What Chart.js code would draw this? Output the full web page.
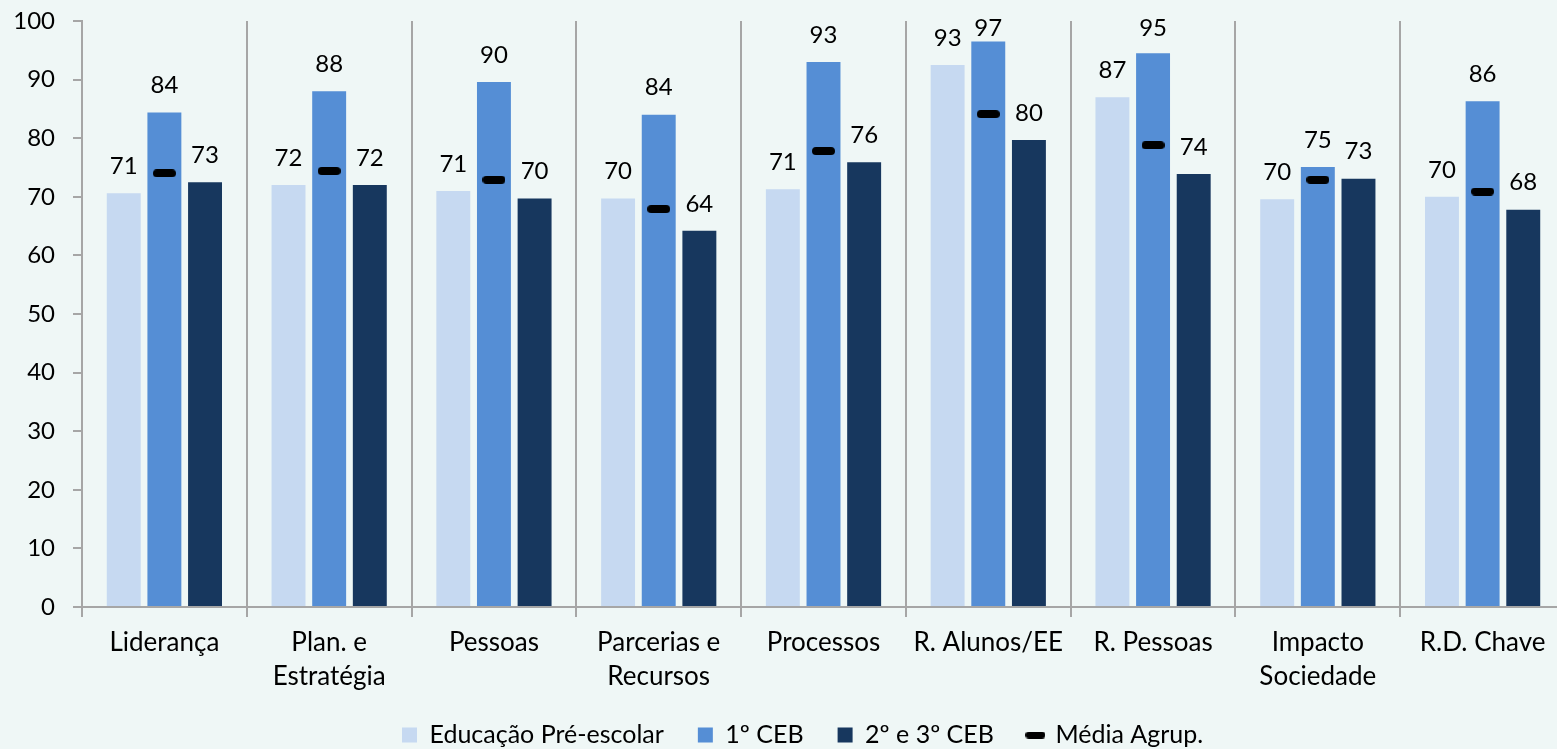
<!DOCTYPE html>
<html>
<head>
<meta charset="utf-8">
<script src="https://cdn.jsdelivr.net/npm/chart.js@4/dist/chart.umd.min.js"></script>
<style>
  html, body { margin: 0; padding: 0; background: #EFF7F6; overflow: hidden; }
  #wrap { position: relative; width: 1570px; height: 749px; }
</style>
</head>
<body>
<div id="wrap"><canvas id="c"></canvas></div>
<script>
// ---- data ----
const categories = [
  'Liderança', ['Plan. e', 'Estratégia'], 'Pessoas', ['Parcerias e', 'Recursos'],
  'Processos', 'R. Alunos/EE', 'R. Pessoas', ['Impacto', 'Sociedade'], 'R.D. Chave'
];
const seriesNames = ['Educação Pré-escolar', '1º CEB', '2º e 3º CEB', 'Média Agrup.'];
const preEscolar = [70.6, 72.0, 71.0, 69.7, 71.3, 92.5, 87.0, 69.6, 70.0];
const ceb1       = [84.4, 88.0, 89.6, 84.0, 93.0, 96.5, 94.5, 75.1, 86.3];
const ceb23      = [72.5, 72.0, 69.7, 64.2, 75.9, 79.7, 73.9, 73.1, 67.8];
const mediaAgrup = [74.0, 74.4, 72.9, 67.9, 77.8, 84.1, 78.8, 72.9, 70.9];
const yTicks = { min: 0, max: 100, step: 10 };

// ---- styles ----
const FONT = 'Lato, "Open Sans", sans-serif';
const GRID = '#A6A6A6';

function makeDash(w, h) {
  const cv = document.createElement('canvas');
  cv.width = w; cv.height = h;
  const g = cv.getContext('2d');
  const r = h / 2;
  g.fillStyle = '#000';
  g.beginPath();
  g.moveTo(r, 0); g.lineTo(w - r, 0);
  g.arc(w - r, r, r, -Math.PI / 2, Math.PI / 2);
  g.lineTo(r, h);
  g.arc(r, r, r, Math.PI / 2, Math.PI * 1.5);
  g.closePath(); g.fill();
  return cv;
}
const dash = makeDash(23, 8);
const dashLegend = makeDash(20, 7);

const valueLabels = {
  id: 'valueLabels',
  afterDatasetsDraw(chart) {
    const ctx = chart.ctx;
    ctx.save();
    ctx.font = '24px ' + FONT;
    ctx.fillStyle = '#000';
    ctx.textAlign = 'center';
    ctx.textBaseline = 'middle';
    for (let d = 0; d < 3; d++) {
      const meta = chart.getDatasetMeta(d);
      const data = chart.data.datasets[d].data;
      meta.data.forEach((el, i) => {
        const y = Math.max(el.y - 27, 28);
        ctx.fillText(String(Math.round(data[i])), el.x, y);
      });
    }
    ctx.restore();
  }
};

const LEG_PAD = 34;
const LEG_FONT = 25;
const LEG_CENTER_Y = 735;
const LEG_START_X = 402;

const legendPlace = {
  id: 'legendPlace',
  afterLayout(chart) {
    const lg = chart.legend;
    const itemH = LEG_FONT;
    lg.top = LEG_CENTER_Y - LEG_PAD - itemH / 2;
    lg.bottom = chart.height;
    lg.height = lg.bottom - lg.top;
    const lw = lg.lineWidths ? lg.lineWidths[0] : 0;
    const x0 = (lg.left + LEG_PAD + lg.right - lw) / 2;
    const s = LEG_START_X - x0;
    lg.left += s; lg.right += s;
  }
};

new Chart(document.getElementById('c'), {
  type: 'bar',
  data: {
    labels: categories,
    datasets: [
      { label: seriesNames[0], data: preEscolar, backgroundColor: '#C6D9F1', pointStyle: 'rect', order: 2 },
      { label: seriesNames[1], data: ceb1, backgroundColor: '#558ED5', pointStyle: 'rect', order: 2 },
      { label: seriesNames[2], data: ceb23, backgroundColor: '#17375E', pointStyle: 'rect', order: 2 },
      { label: seriesNames[3], data: mediaAgrup, type: 'line', showLine: false,
        pointStyle: dash, backgroundColor: '#000', borderColor: '#000', order: 1 }
    ]
  },
  options: {
    responsive: true,
    maintainAspectRatio: false,
    animation: false,
    events: [],
    datasets: { bar: { categoryPercentage: 0.74, barPercentage: 0.835, borderWidth: 0 } },
    layout: { padding: { top: 21, left: 0, right: 0, bottom: 0 } },
    plugins: {
      tooltip: { enabled: false },
      legend: {
        position: 'bottom',
        maxHeight: 30,
        labels: {
          usePointStyle: true,
          boxWidth: 15, boxHeight: 15,
          padding: LEG_PAD,
          color: '#000',
          font: { family: FONT, size: LEG_FONT },
          generateLabels(chart) {
            const items = Chart.defaults.plugins.legend.labels.generateLabels(chart);
            items.forEach(it => { if (it.datasetIndex === 3) it.pointStyle = dashLegend; });
            return items;
          },
          sort: (a, b) => a.datasetIndex - b.datasetIndex
        }
      }
    },
    scales: {
      x: {
        offset: true,
        grid: { offset: true, color: GRID, lineWidth: 2, tickLength: 10, drawOnChartArea: true },
        border: { color: GRID, width: 2 },
        ticks: { color: '#000', font: { family: FONT, size: 26, lineHeight: 1.29 }, padding: 9,
                 maxRotation: 0, autoSkip: false },
        afterFit(s) { s.height = 749 - 30 - 607; }
      },
      y: {
        min: yTicks.min, max: yTicks.max,
        grid: { drawOnChartArea: false, color: GRID, lineWidth: 2, tickLength: 9 },
        border: { color: GRID, width: 2 },
        ticks: { stepSize: yTicks.step, color: '#000', font: { family: FONT, size: 24 }, padding: 18 },
        afterFit(s) { s.width = 82; s.paddingTop = 12; s.paddingBottom = 12; }
      }
    }
  },
  plugins: [valueLabels, legendPlace]
});
</script>
</body>
</html>
